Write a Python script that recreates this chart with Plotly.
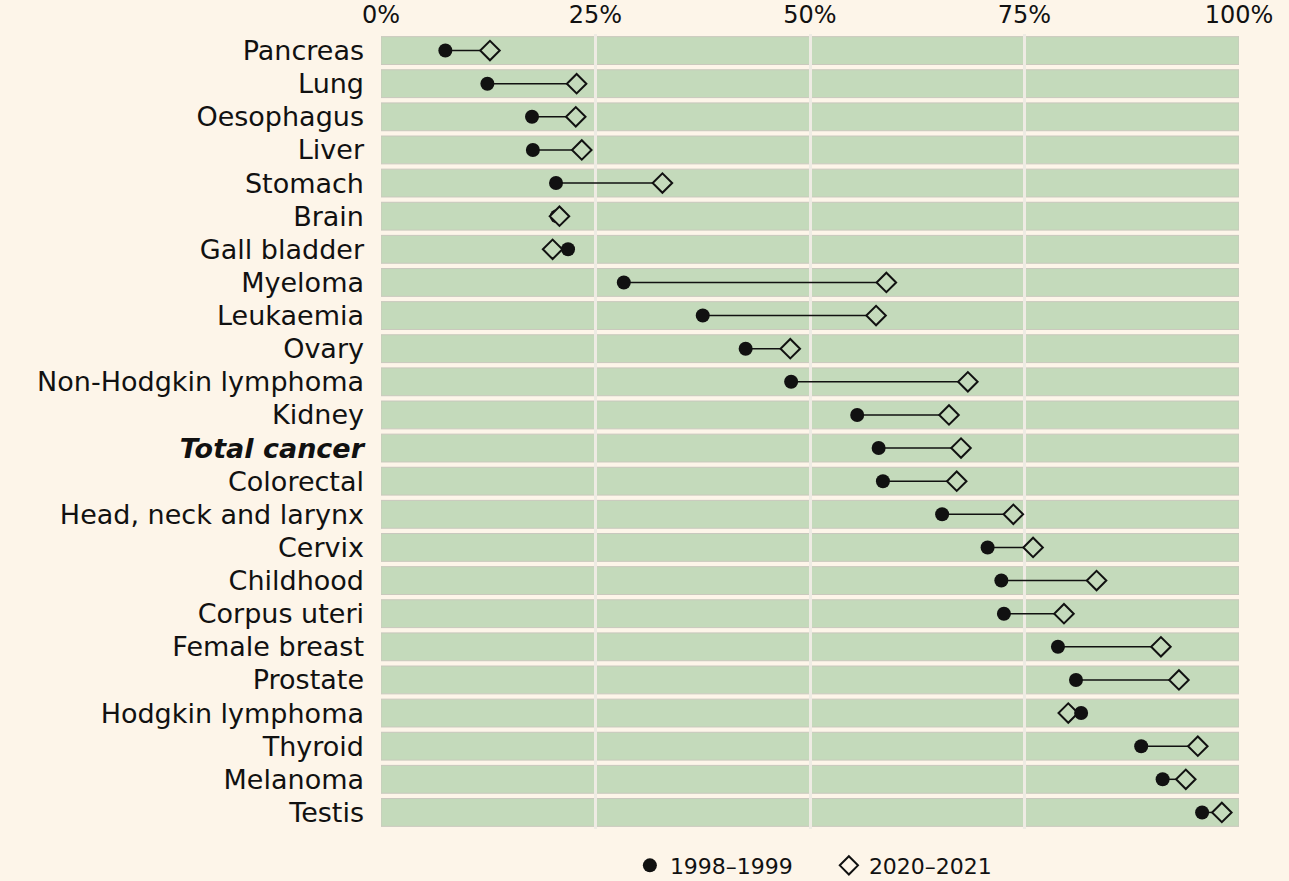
import plotly.graph_objects as go

categories = ["Pancreas", "Lung", "Oesophagus", "Liver", "Stomach", "Brain", "Gall bladder",
              "Myeloma", "Leukaemia", "Ovary", "Non-Hodgkin lymphoma", "Kidney", "Total cancer",
              "Colorectal", "Head, neck and larynx", "Cervix", "Childhood", "Corpus uteri",
              "Female breast", "Prostate", "Hodgkin lymphoma", "Thyroid", "Melanoma", "Testis"]
surv_1998 = [7.5, 12.4, 17.6, 17.7, 20.4, 20.5, 21.8, 28.3, 37.5, 42.5, 47.8, 55.5, 58.0,
             58.5, 65.4, 70.7, 72.3, 72.6, 78.9, 81.0, 81.6, 88.6, 91.1, 95.7]
surv_2020 = [12.7, 22.8, 22.7, 23.4, 32.8, 20.8, 20.0, 58.9, 57.7, 47.7, 68.4, 66.2, 67.6,
             67.1, 73.7, 76.0, 83.4, 79.6, 90.9, 93.0, 80.1, 95.2, 93.8, 98.0]
x_ticks = [0, 25, 50, 75, 100]
x_tick_labels = ["0%", "25%", "50%", "75%", "100%"]
series_names = ["1998\u20131999", "2020\u20132021"]

BG = "#fdf5e9"
BAND = "#c4dabb"
FONT = "DejaVu Sans"

ypos = list(range(len(categories)))
ticktext = [("<b><i>%s</i></b>" % c) if c == "Total cancer" else c for c in categories]

fig = go.Figure()

# connecting lines
lx, ly = [], []
for a, b, y in zip(surv_1998, surv_2020, ypos):
    lx += [a, b, None]
    ly += [y, y, None]
fig.add_trace(go.Scatter(x=lx, y=ly, mode="lines", line=dict(color="#111111", width=1.5),
                         showlegend=False, hoverinfo="skip"))

diamond_marker = dict(symbol="diamond", size=15, color=BAND, line=dict(color="#111111", width=2))

# the right-most marker of each row is drawn on top
back_x = [b if b < a else None for a, b in zip(surv_1998, surv_2020)]
front_x = [b if b >= a else None for a, b in zip(surv_1998, surv_2020)]

fig.add_trace(go.Scatter(x=back_x, y=ypos, mode="markers", name=series_names[1],
                         showlegend=False, marker=diamond_marker))
fig.add_trace(go.Scatter(x=surv_1998, y=ypos, mode="markers", name=series_names[0],
                         showlegend=False,
                         marker=dict(symbol="circle", size=14, color="#111111",
                                     line=dict(color="#111111", width=0))))
fig.add_trace(go.Scatter(x=front_x, y=ypos, mode="markers", name=series_names[1],
                         showlegend=False, marker=diamond_marker))

# legend entries
fig.add_trace(go.Scatter(x=[None], y=[None], mode="markers", name=series_names[0],
                         marker=dict(symbol="circle", size=14, color="#111111")))
fig.add_trace(go.Scatter(x=[None], y=[None], mode="markers", name=series_names[1],
                         marker=dict(symbol="diamond-open", size=14, color="#111111",
                                     line=dict(width=2))))

for y in ypos:
    fig.add_shape(type="rect", xref="x", yref="y", x0=0, x1=100, y0=y - 0.42, y1=y + 0.42,
                  fillcolor=BAND, line=dict(color="#c9c8bd", width=1), layer="below")

fig.update_layout(
    width=1289, height=881,
    paper_bgcolor=BG, plot_bgcolor=BG,
    margin=dict(l=381, r=50, t=34, b=52, autoexpand=False),
    font=dict(family=FONT, color="#111111"),
    xaxis=dict(range=[0, 100], side="top", tickvals=x_ticks, ticktext=x_tick_labels,
               showgrid=True, gridcolor="#eeebe3", gridwidth=2.5, zeroline=False,
               showline=False, ticks="", ticklabelstandoff=5,
               tickfont=dict(size=24, family=FONT)),
    yaxis=dict(range=[23.5, -0.5], tickvals=ypos, ticktext=ticktext, showgrid=False,
               zeroline=False, showline=False, ticks="", ticklabelstandoff=16,
               tickfont=dict(size=27, family=FONT)),
    legend=dict(orientation="h", x=0.522, xanchor="center", y=-0.046, yanchor="middle",
                font=dict(size=22, family=FONT), entrywidth=154, entrywidthmode="pixels",
                bgcolor="rgba(0,0,0,0)"),
)

fig.write_html("out.html", config={"displayModeBar": False},
               post_script="document.body.style.margin='0';document.body.style.overflow='hidden';")
